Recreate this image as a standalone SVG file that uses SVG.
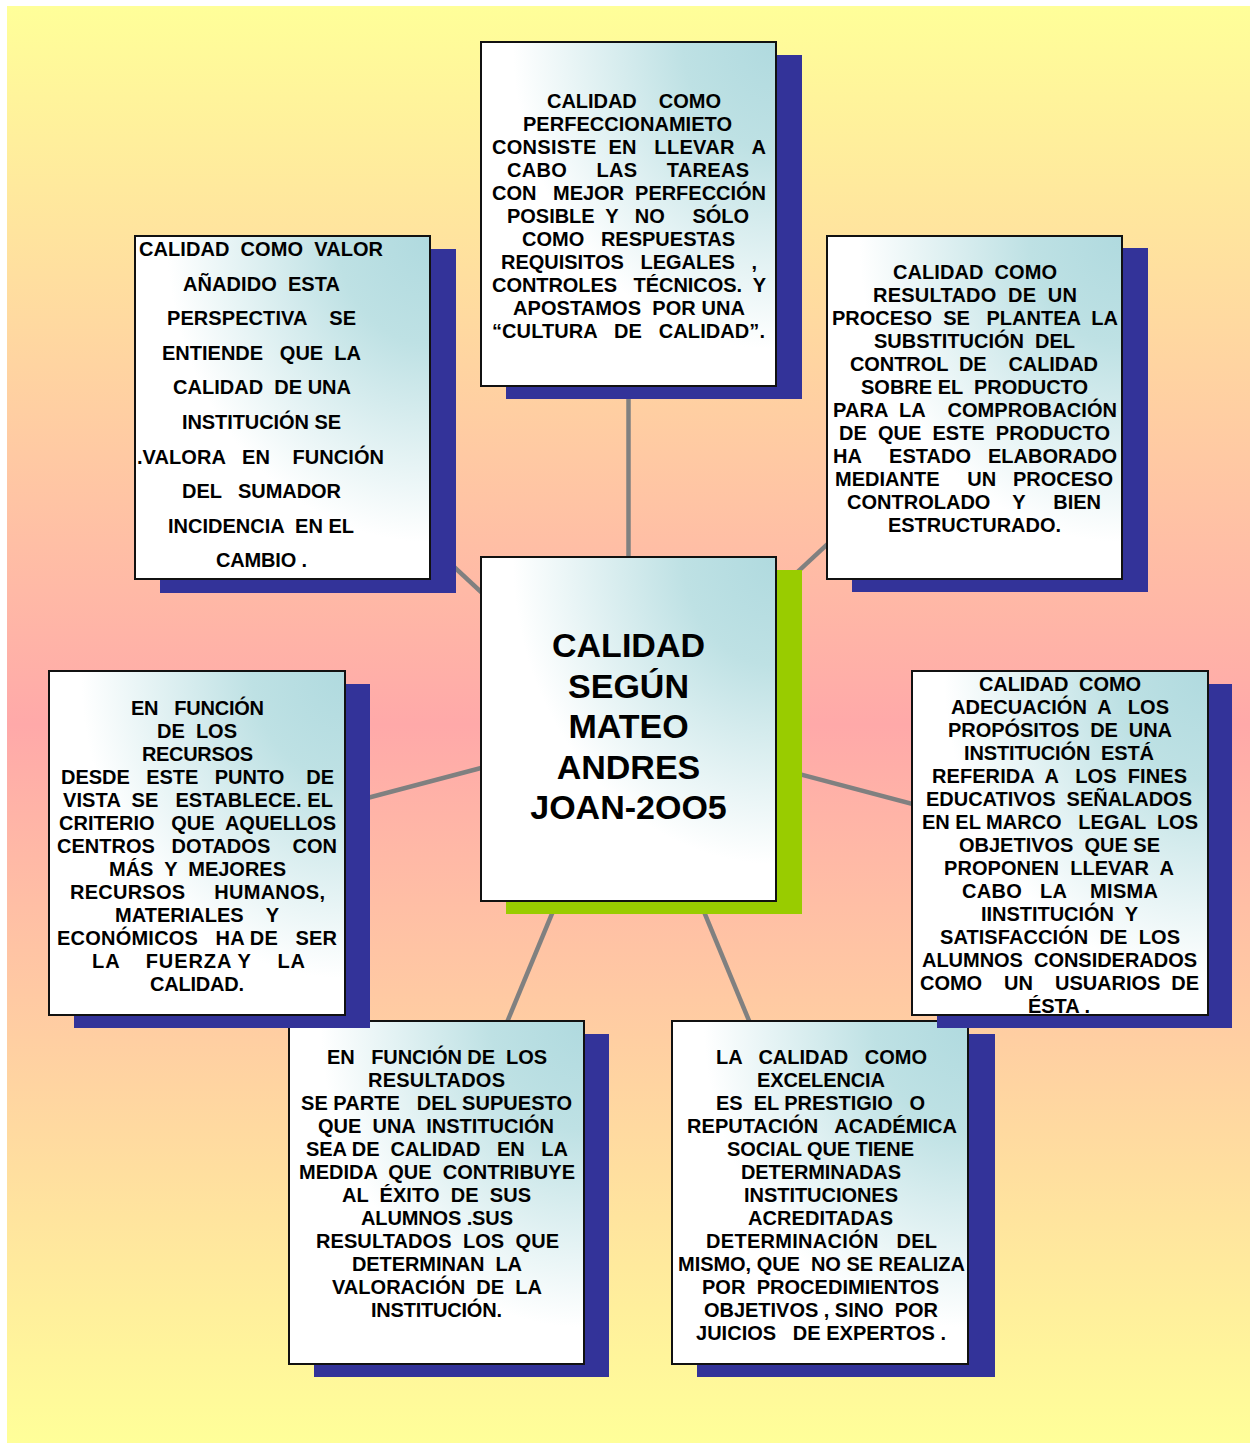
<svg xmlns="http://www.w3.org/2000/svg" width="1254" height="1443" viewBox="0 0 1254 1443">
  <defs>
    <linearGradient id="bg" x1="0" y1="0" x2="0" y2="1">
      <stop offset="0" stop-color="#FFFF99"/>
      <stop offset="0.5" stop-color="#FFA9A9"/>
      <stop offset="1" stop-color="#FFFF99"/>
    </linearGradient>
    <radialGradient id="boxFill" cx="1" cy="0" r="1.05" fx="1" fy="0">
      <stop offset="0" stop-color="#B0DADF"/>
      <stop offset="0.3" stop-color="#BEE1E4"/>
      <stop offset="0.85" stop-color="#FFFFFF"/>
      <stop offset="1" stop-color="#FFFFFF"/>
    </radialGradient>
    <style>
      .shadow { fill: #333399; }
      .shadow-green { fill: #99CC00; }
      .box { fill: url(#boxFill); stroke: #111111; stroke-width: 2; }
      .t { font-family: "Liberation Sans", Arial, sans-serif; font-weight: bold; font-size: 20px; fill: #000000; white-space: pre; }
      .title { font-family: "Liberation Sans", Arial, sans-serif; font-weight: bold; font-size: 34px; fill: #000000; text-anchor: middle; }
      .link { stroke: #808080; stroke-width: 4.5; fill: none; }
    </style>
  </defs>

  <!-- page background -->
  <rect x="7" y="6" width="1243" height="1437" fill="url(#bg)"/>

  <!-- spokes from the central box to each surrounding box -->
  <g id="connectors">
    <line class="link" x1="628.5" y1="729" x2="628.5" y2="214"/>
    <line class="link" x1="628.5" y1="729" x2="282.5" y2="407.5"/>
    <line class="link" x1="628.5" y1="729" x2="974.5" y2="407.5"/>
    <line class="link" x1="628.5" y1="729" x2="197" y2="843"/>
    <line class="link" x1="628.5" y1="729" x2="1060" y2="843"/>
    <line class="link" x1="628.5" y1="729" x2="436.5" y2="1192.5"/>
    <line class="link" x1="628.5" y1="729" x2="820" y2="1192.5"/>
  </g>

  <!-- top: perfeccionamiento -->
  <g id="node-perfeccionamiento">
    <rect class="shadow" x="506" y="55" width="296" height="344"/>
    <rect class="box" x="481" y="42" width="295" height="344"/>
    <text class="t" x="547" y="108" textLength="174" lengthAdjust="spacing">CALIDAD    COMO</text>
    <text class="t" x="523" y="131" textLength="209" lengthAdjust="spacing">PERFECCIONAMIETO</text>
    <text class="t" x="492" y="154" textLength="274" lengthAdjust="spacing">CONSISTE  EN   LLEVAR   A</text>
    <text class="t" x="507" y="177" textLength="242" lengthAdjust="spacing">CABO     LAS     TAREAS</text>
    <text class="t" x="492" y="200" textLength="274" lengthAdjust="spacing">CON   MEJOR  PERFECCIÓN</text>
    <text class="t" x="507" y="223" textLength="242" lengthAdjust="spacing">POSIBLE  Y   NO     SÓLO</text>
    <text class="t" x="522" y="246" textLength="213" lengthAdjust="spacing">COMO   RESPUESTAS</text>
    <text class="t" x="501" y="269" textLength="256" lengthAdjust="spacing">REQUISITOS   LEGALES   ,</text>
    <text class="t" x="492" y="292" textLength="274" lengthAdjust="spacing">CONTROLES   TÉCNICOS.  Y</text>
    <text class="t" x="513" y="315" textLength="232" lengthAdjust="spacing">APOSTAMOS  POR UNA</text>
    <text class="t" x="492" y="338" textLength="273" lengthAdjust="spacing">“CULTURA   DE   CALIDAD”.</text>
  </g>

  <!-- top left: valor añadido -->
  <g id="node-valor-anadido">
    <rect class="shadow" x="160" y="249" width="296" height="344"/>
    <rect class="box" x="135" y="236" width="295" height="343"/>
    <text class="t" x="139" y="256" textLength="244" lengthAdjust="spacing">CALIDAD  COMO  VALOR</text>
    <text class="t" x="183" y="290.6" textLength="157" lengthAdjust="spacing">AÑADIDO  ESTA</text>
    <text class="t" x="167" y="325.2" textLength="189" lengthAdjust="spacing">PERSPECTIVA    SE</text>
    <text class="t" x="162" y="359.8" textLength="199" lengthAdjust="spacing">ENTIENDE   QUE  LA</text>
    <text class="t" x="173" y="394.4" textLength="178" lengthAdjust="spacing">CALIDAD  DE UNA</text>
    <text class="t" x="182" y="429" textLength="159" lengthAdjust="spacing">INSTITUCIÓN SE</text>
    <text class="t" x="137" y="463.6" textLength="247" lengthAdjust="spacing">.VALORA   EN    FUNCIÓN</text>
    <text class="t" x="182" y="498.2" textLength="159" lengthAdjust="spacing">DEL   SUMADOR</text>
    <text class="t" x="168" y="532.8" textLength="186" lengthAdjust="spacing">INCIDENCIA  EN EL</text>
    <text class="t" x="216" y="567.4" textLength="91" lengthAdjust="spacing">CAMBIO .</text>
  </g>

  <!-- top right: resultado de un proceso -->
  <g id="node-resultado-proceso">
    <rect class="shadow" x="852" y="248" width="296" height="344"/>
    <rect class="box" x="827" y="236" width="295" height="343"/>
    <text class="t" x="893" y="279" textLength="164" lengthAdjust="spacing">CALIDAD  COMO</text>
    <text class="t" x="873" y="302" textLength="204" lengthAdjust="spacing">RESULTADO  DE  UN</text>
    <text class="t" x="832" y="325" textLength="286" lengthAdjust="spacing">PROCESO  SE   PLANTEA  LA</text>
    <text class="t" x="874" y="348" textLength="201" lengthAdjust="spacing">SUBSTITUCIÓN  DEL</text>
    <text class="t" x="850" y="371" textLength="248" lengthAdjust="spacing">CONTROL  DE    CALIDAD</text>
    <text class="t" x="861" y="394" textLength="227" lengthAdjust="spacing">SOBRE EL  PRODUCTO</text>
    <text class="t" x="833" y="417" textLength="284" lengthAdjust="spacing">PARA  LA    COMPROBACIÓN</text>
    <text class="t" x="839" y="440" textLength="271" lengthAdjust="spacing">DE  QUE  ESTE  PRODUCTO</text>
    <text class="t" x="833" y="463" textLength="284" lengthAdjust="spacing">HA     ESTADO   ELABORADO</text>
    <text class="t" x="835" y="486" textLength="278" lengthAdjust="spacing">MEDIANTE     UN   PROCESO</text>
    <text class="t" x="847" y="509" textLength="254" lengthAdjust="spacing">CONTROLADO    Y     BIEN</text>
    <text class="t" x="888" y="532" textLength="173" lengthAdjust="spacing">ESTRUCTURADO.</text>
  </g>

  <!-- centre: title -->
  <g id="node-centro">
    <rect class="shadow-green" x="506" y="570" width="296" height="344"/>
    <rect class="box" x="481" y="557" width="295" height="344"/>
    <text class="title" x="628.5" y="657">CALIDAD</text>
    <text class="title" x="628.5" y="697.5">SEGÚN</text>
    <text class="title" x="628.5" y="738">MATEO</text>
    <text class="title" x="628.5" y="778.5">ANDRES</text>
    <text class="title" x="628.5" y="819">JOAN-2OO5</text>
  </g>

  <!-- bottom left: resultados -->
  <g id="node-resultados">
    <rect class="shadow" x="314" y="1034" width="295" height="343"/>
    <rect class="box" x="289" y="1021" width="295" height="343"/>
    <text class="t" x="327" y="1064" textLength="220" lengthAdjust="spacing">EN   FUNCIÓN DE  LOS</text>
    <text class="t" x="368" y="1087" textLength="137" lengthAdjust="spacing">RESULTADOS</text>
    <text class="t" x="301" y="1110" textLength="271" lengthAdjust="spacing">SE PARTE   DEL SUPUESTO</text>
    <text class="t" x="318" y="1133" textLength="236" lengthAdjust="spacing">QUE  UNA  INSTITUCIÓN</text>
    <text class="t" x="306" y="1156" textLength="262" lengthAdjust="spacing">SEA DE  CALIDAD   EN   LA</text>
    <text class="t" x="299" y="1179" textLength="276" lengthAdjust="spacing">MEDIDA  QUE  CONTRIBUYE</text>
    <text class="t" x="342" y="1202" textLength="189" lengthAdjust="spacing">AL  ÉXITO  DE  SUS</text>
    <text class="t" x="361" y="1225" textLength="152" lengthAdjust="spacing">ALUMNOS .SUS</text>
    <text class="t" x="316" y="1248" textLength="243" lengthAdjust="spacing">RESULTADOS  LOS  QUE</text>
    <text class="t" x="352" y="1271" textLength="170" lengthAdjust="spacing">DETERMINAN  LA</text>
    <text class="t" x="332" y="1294" textLength="210" lengthAdjust="spacing">VALORACIÓN  DE  LA</text>
    <text class="t" x="371" y="1317" textLength="131" lengthAdjust="spacing">INSTITUCIÓN.</text>
  </g>

  <!-- bottom right: excelencia -->
  <g id="node-excelencia">
    <rect class="shadow" x="697" y="1034" width="298" height="343"/>
    <rect class="box" x="672" y="1021" width="296" height="343"/>
    <text class="t" x="716" y="1064" textLength="211" lengthAdjust="spacing">LA   CALIDAD   COMO</text>
    <text class="t" x="757" y="1087" textLength="128" lengthAdjust="spacing">EXCELENCIA</text>
    <text class="t" x="716" y="1110" textLength="209" lengthAdjust="spacing">ES  EL PRESTIGIO   O</text>
    <text class="t" x="687" y="1133" textLength="270" lengthAdjust="spacing">REPUTACIÓN   ACADÉMICA</text>
    <text class="t" x="727" y="1156" textLength="187" lengthAdjust="spacing">SOCIAL QUE TIENE</text>
    <text class="t" x="741" y="1179" textLength="160" lengthAdjust="spacing">DETERMINADAS</text>
    <text class="t" x="744" y="1202" textLength="154" lengthAdjust="spacing">INSTITUCIONES</text>
    <text class="t" x="748" y="1225" textLength="145" lengthAdjust="spacing">ACREDITADAS</text>
    <text class="t" x="706" y="1248" textLength="231" lengthAdjust="spacing">DETERMINACIÓN   DEL</text>
    <text class="t" x="678" y="1271" textLength="287" lengthAdjust="spacing">MISMO, QUE  NO SE REALIZA</text>
    <text class="t" x="702" y="1294" textLength="237" lengthAdjust="spacing">POR  PROCEDIMIENTOS</text>
    <text class="t" x="704" y="1317" textLength="234" lengthAdjust="spacing">OBJETIVOS , SINO  POR</text>
    <text class="t" x="696" y="1340" textLength="250" lengthAdjust="spacing">JUICIOS   DE EXPERTOS .</text>
  </g>

  <!-- left: recursos -->
  <g id="node-recursos">
    <rect class="shadow" x="74" y="684" width="296" height="344"/>
    <rect class="box" x="49" y="671" width="296" height="344"/>
    <text class="t" x="131" y="715" textLength="133" lengthAdjust="spacing">EN   FUNCIÓN</text>
    <text class="t" x="157" y="738" textLength="80" lengthAdjust="spacing">DE  LOS</text>
    <text class="t" x="142" y="761" textLength="111" lengthAdjust="spacing">RECURSOS</text>
    <text class="t" x="61" y="784" textLength="273" lengthAdjust="spacing">DESDE   ESTE   PUNTO    DE</text>
    <text class="t" x="63" y="807" textLength="270" lengthAdjust="spacing">VISTA  SE   ESTABLECE. EL</text>
    <text class="t" x="59" y="830" textLength="277" lengthAdjust="spacing">CRITERIO   QUE  AQUELLOS</text>
    <text class="t" x="57" y="853" textLength="280" lengthAdjust="spacing">CENTROS   DOTADOS    CON</text>
    <text class="t" x="109" y="876" textLength="177" lengthAdjust="spacing">MÁS  Y  MEJORES</text>
    <text class="t" x="70" y="899" textLength="255" lengthAdjust="spacing">RECURSOS     HUMANOS,</text>
    <text class="t" x="115" y="922" textLength="164" lengthAdjust="spacing">MATERIALES    Y</text>
    <text class="t" x="57" y="945" textLength="280" lengthAdjust="spacing">ECONÓMICOS   HA DE   SER</text>
    <text class="t" x="92" y="968" textLength="213" lengthAdjust="spacing">LA    FUERZA Y    LA</text>
    <text class="t" x="150" y="991" textLength="94" lengthAdjust="spacing">CALIDAD.</text>
  </g>

  <!-- right: adecuación a los propósitos -->
  <g id="node-adecuacion">
    <rect class="shadow" x="937" y="684" width="295" height="344"/>
    <rect class="box" x="912" y="671" width="296" height="344"/>
    <text class="t" x="979" y="691" textLength="162" lengthAdjust="spacing">CALIDAD  COMO</text>
    <text class="t" x="951" y="714" textLength="218" lengthAdjust="spacing">ADECUACIÓN  A   LOS</text>
    <text class="t" x="948" y="737" textLength="224" lengthAdjust="spacing">PROPÓSITOS  DE  UNA</text>
    <text class="t" x="964" y="760" textLength="190" lengthAdjust="spacing">INSTITUCIÓN  ESTÁ</text>
    <text class="t" x="932" y="783" textLength="255" lengthAdjust="spacing">REFERIDA  A   LOS  FINES</text>
    <text class="t" x="926" y="806" textLength="266" lengthAdjust="spacing">EDUCATIVOS  SEÑALADOS</text>
    <text class="t" x="922" y="829" textLength="276" lengthAdjust="spacing">EN EL MARCO   LEGAL  LOS</text>
    <text class="t" x="959" y="852" textLength="201" lengthAdjust="spacing">OBJETIVOS  QUE SE</text>
    <text class="t" x="944" y="875" textLength="230" lengthAdjust="spacing">PROPONEN  LLEVAR  A</text>
    <text class="t" x="962" y="898" textLength="196" lengthAdjust="spacing">CABO   LA    MISMA</text>
    <text class="t" x="981" y="921" textLength="157" lengthAdjust="spacing">IINSTITUCIÓN  Y</text>
    <text class="t" x="940" y="944" textLength="240" lengthAdjust="spacing">SATISFACCIÓN  DE  LOS</text>
    <text class="t" x="922" y="967" textLength="275" lengthAdjust="spacing">ALUMNOS  CONSIDERADOS</text>
    <text class="t" x="920" y="990" textLength="279" lengthAdjust="spacing">COMO    UN    USUARIOS  DE</text>
    <text class="t" x="1028" y="1013" textLength="62" lengthAdjust="spacing">ÉSTA .</text>
  </g>
</svg>
